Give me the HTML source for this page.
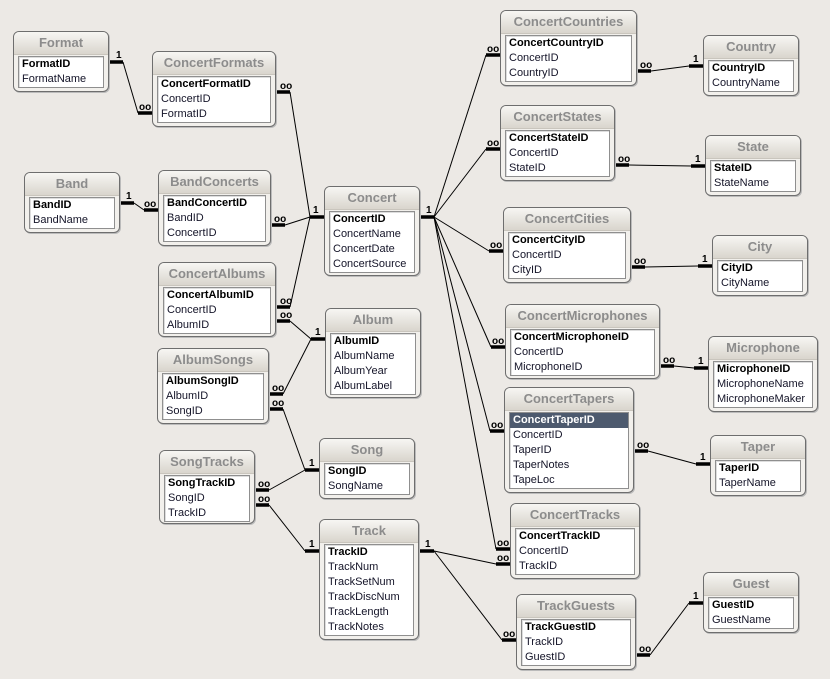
<!DOCTYPE html>
<html><head><style>
body{margin:0;width:830px;height:679px;background:#ece9e5;position:relative;overflow:hidden;font-family:"Liberation Sans",sans-serif}
.t{position:absolute;border:1px solid #6e6e6e;border-radius:6px;background:#f2f0ec;box-sizing:border-box;box-shadow:1px 1px 0 #bbb}
.h{height:22px;line-height:22px;text-align:center;font-weight:bold;font-size:13px;color:#8c8c8c;background:linear-gradient(#f7f6f3,#d9d5cd);border-radius:5px 5px 0 0;border-bottom:1px solid #c9c5bd}
.b{margin:1px 4px 4px 4px;background:#fff;border:1px solid #8f8f8f;box-shadow:inset 1px 1px 0 #ddd}
.r{height:15px;line-height:15px;font-size:11px;color:#141428;padding-left:3px;white-space:nowrap}
.r.k{font-weight:bold;color:#000}
.r.s{background:#4d5a6e;color:#fff}
svg{position:absolute;left:0;top:0}
svg text{font-family:"Liberation Sans",sans-serif;font-weight:bold;font-size:10px;fill:#000}
</style></head><body>
<svg width="830" height="679">
<g stroke="#000" stroke-width="1" fill="none">
<path d="M123 62 L138 113"/><path d="M290 92 L310 217"/><path d="M134 203 L144 210"/><path d="M285 225 L310 217"/><path d="M290 307 L310 217"/><path d="M290 321 L311 339"/><path d="M283 394 L311 339"/><path d="M283 409 L305 470"/><path d="M269 490 L305 470"/><path d="M269 505 L305 551"/><path d="M434 551 L496 564"/><path d="M434 551 L502 640"/>
<path d="M434 217 L486 55"/><path d="M434 217 L486 149"/><path d="M434 217 L489 251"/><path d="M434 217 L491 347"/><path d="M434 217 L490 431"/><path d="M434 217 L496 549"/>
<path d="M651 71 L689 66"/><path d="M629 165 L691 166"/><path d="M645 267 L698 266"/><path d="M674 366 L694 368"/><path d="M648 451 L696 464"/><path d="M650 655 L689 603"/>
</g>
<g stroke="#000" stroke-width="3.5">
<path d="M109 62h14M138 113h14M276 92h14M310 217h14M120 203h14M144 210h14M271 225h14M276 307h14M276 321h14M311 339h14M269 394h14M269 409h14M305 470h14M255 490h14M255 505h14M305 551h14M419 551h15M496 564h14M502 640h14M420 217h14M486 55h14M486 149h14M489 251h14M491 347h14M490 431h14M496 549h14M637 71h14M689 66h14M615 165h14M691 166h14M631 267h14M698 266h14M660 366h14M694 368h14M634 451h14M696 464h14M636 655h14M689 603h14"/>
</g>
<g>
<text x="116" y="58">1</text><text x="139" y="110">oo</text><text x="280" y="89">oo</text><text x="313" y="213">1</text><text x="126" y="199">1</text><text x="144" y="207">oo</text><text x="274" y="222">oo</text><text x="280" y="304">oo</text><text x="280" y="318">oo</text><text x="315" y="335">1</text><text x="272" y="391">oo</text><text x="272" y="406">oo</text><text x="309" y="466">1</text><text x="258" y="487">oo</text><text x="258" y="502">oo</text><text x="309" y="547">1</text><text x="425" y="547">1</text><text x="497" y="561">oo</text><text x="503" y="637">oo</text><text x="426" y="213">1</text>
<text x="487" y="52">oo</text><text x="487" y="146">oo</text><text x="490" y="248">oo</text><text x="492" y="344">oo</text><text x="491" y="428">oo</text><text x="497" y="546">oo</text>
<text x="640" y="68">oo</text><text x="693" y="62">1</text><text x="618" y="162">oo</text><text x="695" y="162">1</text><text x="634" y="264">oo</text><text x="702" y="262">1</text><text x="663" y="363">oo</text><text x="698" y="364">1</text><text x="637" y="448">oo</text><text x="700" y="460">1</text><text x="639" y="652">oo</text><text x="693" y="599">1</text>
</g>
</svg>

<div class="t" style="left:13px;top:31px;width:96px;height:61px"><div class="h">Format</div><div class="b"><div class="r k">FormatID</div><div class="r">FormatName</div></div></div>
<div class="t" style="left:152px;top:51px;width:124px;height:76px"><div class="h">ConcertFormats</div><div class="b"><div class="r k">ConcertFormatID</div><div class="r">ConcertID</div><div class="r">FormatID</div></div></div>
<div class="t" style="left:24px;top:172px;width:96px;height:61px"><div class="h">Band</div><div class="b"><div class="r k">BandID</div><div class="r">BandName</div></div></div>
<div class="t" style="left:158px;top:170px;width:113px;height:76px"><div class="h">BandConcerts</div><div class="b"><div class="r k">BandConcertID</div><div class="r">BandID</div><div class="r">ConcertID</div></div></div>
<div class="t" style="left:324px;top:186px;width:96px;height:90px"><div class="h">Concert</div><div class="b"><div class="r k">ConcertID</div><div class="r">ConcertName</div><div class="r">ConcertDate</div><div class="r">ConcertSource</div></div></div>
<div class="t" style="left:158px;top:262px;width:118px;height:75px"><div class="h">ConcertAlbums</div><div class="b"><div class="r k">ConcertAlbumID</div><div class="r">ConcertID</div><div class="r">AlbumID</div></div></div>
<div class="t" style="left:325px;top:308px;width:96px;height:90px"><div class="h">Album</div><div class="b"><div class="r k">AlbumID</div><div class="r">AlbumName</div><div class="r">AlbumYear</div><div class="r">AlbumLabel</div></div></div>
<div class="t" style="left:157px;top:348px;width:112px;height:76px"><div class="h">AlbumSongs</div><div class="b"><div class="r k">AlbumSongID</div><div class="r">AlbumID</div><div class="r">SongID</div></div></div>
<div class="t" style="left:319px;top:438px;width:96px;height:61px"><div class="h">Song</div><div class="b"><div class="r k">SongID</div><div class="r">SongName</div></div></div>
<div class="t" style="left:159px;top:450px;width:96px;height:74px"><div class="h">SongTracks</div><div class="b"><div class="r k">SongTrackID</div><div class="r">SongID</div><div class="r">TrackID</div></div></div>
<div class="t" style="left:319px;top:519px;width:100px;height:121px"><div class="h">Track</div><div class="b"><div class="r k">TrackID</div><div class="r">TrackNum</div><div class="r">TrackSetNum</div><div class="r">TrackDiscNum</div><div class="r">TrackLength</div><div class="r">TrackNotes</div></div></div>
<div class="t" style="left:500px;top:10px;width:137px;height:76px"><div class="h">ConcertCountries</div><div class="b"><div class="r k">ConcertCountryID</div><div class="r">ConcertID</div><div class="r">CountryID</div></div></div>
<div class="t" style="left:703px;top:35px;width:96px;height:61px"><div class="h">Country</div><div class="b"><div class="r k">CountryID</div><div class="r">CountryName</div></div></div>
<div class="t" style="left:500px;top:105px;width:115px;height:76px"><div class="h">ConcertStates</div><div class="b"><div class="r k">ConcertStateID</div><div class="r">ConcertID</div><div class="r">StateID</div></div></div>
<div class="t" style="left:705px;top:135px;width:96px;height:61px"><div class="h">State</div><div class="b"><div class="r k">StateID</div><div class="r">StateName</div></div></div>
<div class="t" style="left:503px;top:207px;width:128px;height:76px"><div class="h">ConcertCities</div><div class="b"><div class="r k">ConcertCityID</div><div class="r">ConcertID</div><div class="r">CityID</div></div></div>
<div class="t" style="left:712px;top:235px;width:96px;height:61px"><div class="h">City</div><div class="b"><div class="r k">CityID</div><div class="r">CityName</div></div></div>
<div class="t" style="left:505px;top:304px;width:155px;height:75px"><div class="h">ConcertMicrophones</div><div class="b"><div class="r k">ConcertMicrophoneID</div><div class="r">ConcertID</div><div class="r">MicrophoneID</div></div></div>
<div class="t" style="left:708px;top:336px;width:110px;height:76px"><div class="h">Microphone</div><div class="b"><div class="r k">MicrophoneID</div><div class="r">MicrophoneName</div><div class="r">MicrophoneMaker</div></div></div>
<div class="t" style="left:504px;top:387px;width:130px;height:106px"><div class="h">ConcertTapers</div><div class="b"><div class="r k s">ConcertTaperID</div><div class="r">ConcertID</div><div class="r">TaperID</div><div class="r">TaperNotes</div><div class="r">TapeLoc</div></div></div>
<div class="t" style="left:710px;top:435px;width:96px;height:61px"><div class="h">Taper</div><div class="b"><div class="r k">TaperID</div><div class="r">TaperName</div></div></div>
<div class="t" style="left:510px;top:503px;width:130px;height:76px"><div class="h">ConcertTracks</div><div class="b"><div class="r k">ConcertTrackID</div><div class="r">ConcertID</div><div class="r">TrackID</div></div></div>
<div class="t" style="left:703px;top:572px;width:96px;height:61px"><div class="h">Guest</div><div class="b"><div class="r k">GuestID</div><div class="r">GuestName</div></div></div>
<div class="t" style="left:516px;top:594px;width:120px;height:76px"><div class="h">TrackGuests</div><div class="b"><div class="r k">TrackGuestID</div><div class="r">TrackID</div><div class="r">GuestID</div></div></div>
</body></html>
